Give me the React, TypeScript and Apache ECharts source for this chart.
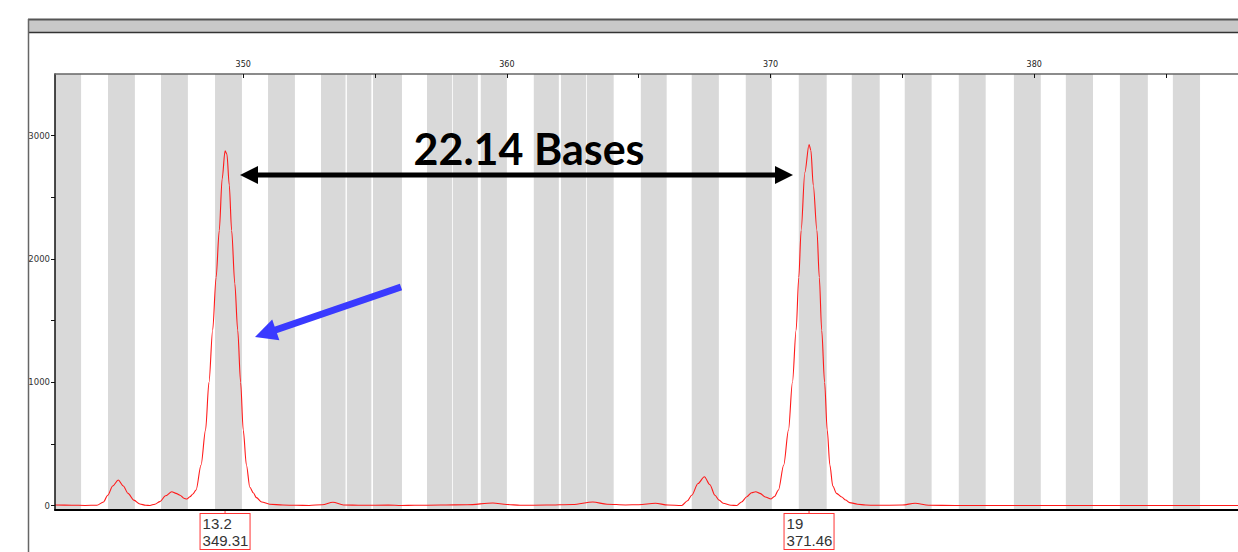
import React, { useEffect, useRef } from "react";
import * as echarts from "echarts";

// Electropherogram trace (size in bases, RFU)
const traceX = [
  342.86, 343.5, 344.0, 344.45, 344.7, 344.86, 345.05, 345.26, 345.45, 345.63, 345.85, 346.08, 346.3, 346.46,
  346.65, 346.84, 347.05, 347.29, 347.45, 347.6, 347.75, 347.86, 347.98, 348.09, 348.21, 348.4, 348.57, 348.7,
  348.84, 348.97, 349.09, 349.2, 349.31, 349.38, 349.47, 349.56, 349.68, 349.79, 349.9, 350.0, 350.12, 350.25,
  350.38, 350.5, 350.7, 351.0, 351.5, 352.0, 352.5, 353.0, 353.4, 353.8, 354.5, 355.5, 356.0, 356.5, 357.5,
  358.5, 359.47, 360.0, 360.5, 361.5, 362.5, 363.26, 363.8, 364.5, 365.0, 365.63, 366.1, 366.63, 366.85, 367.01,
  367.25, 367.49, 367.7, 367.89, 368.05, 368.2, 368.5, 368.72, 368.9, 369.1, 369.28, 369.44, 369.6, 369.8,
  370.02, 370.15, 370.3, 370.5, 370.68, 370.83, 370.97, 371.07, 371.16, 371.3, 371.46, 371.53, 371.62, 371.76,
  371.85, 371.94, 372.05, 372.15, 372.25, 372.36, 372.5, 372.7, 372.85, 373.0, 373.3, 373.6, 374.0, 375.0,
  375.48, 376.0, 377.0, 380.0, 385.0, 387.73,
];
const traceY = [
  5, 4, 2, 4, 30, 85, 160, 208, 160, 100, 45, 14, 3, 2,
  12, 33, 80, 113, 100, 85, 60, 54, 73, 95, 127, 330, 613, 1000,
  1423, 1850, 2231, 2650, 2877, 2850, 2600, 2231, 1800, 1423, 1000, 613, 330, 150,
  105, 65, 30, 12, 5, 3, 2, 8, 28, 6, 3, 5, 2, 3, 5,
  8, 22, 10, 3, 5, 10, 30, 12, 6, 8, 20, 5, 2, 40, 85,
  180, 235, 170, 85, 45, 20, 3, 2, 30, 73, 105, 113, 100, 70,
  54, 75, 127, 330, 613, 1000, 1423, 1850, 2231, 2700, 2929, 2880, 2600, 2231,
  1850, 1423, 1000, 613, 330, 160, 100, 70, 46, 25, 12, 5, 3, 5,
  20, 3, 2, 2, 2, 2,
];

// Allele bins (gray windows)
const binStarts = [
  342.86, 344.87, 346.88, 348.93, 350.94, 352.95, 353.93, 354.92, 356.97, 357.95, 359.01, 361.02, 362.05,
  363.03, 365.08, 367.01, 369.06, 371.07, 373.08, 375.09, 377.14, 379.23, 381.2, 383.25, 385.26,
];
const binEnds = [
  343.85, 345.89, 347.9, 349.95, 351.96, 353.88, 354.86, 356.02, 357.92, 358.9, 360.0, 361.97, 363.0,
  364.05, 366.06, 368.04, 370.05, 372.13, 374.14, 376.11, 378.16, 380.25, 382.23, 384.31, 386.29,
];

// Called peaks
const peakSizes = [349.31, 371.46];
const peakAlleles = ["13.2", "19"];

// Axes
const xMin = 342.86;
const xMax = 387.73;
const yMin = -35;
const yMax = 3500;
const xTickValues = [350, 355, 360, 365, 370, 375, 380, 385];
const xLabelValues = [350, 360, 370, 380];
const yTickValues = [0, 500, 1000, 1500, 2000, 2500, 3000];
const yLabelValues = [0, 1000, 2000, 3000];

const annotationText = "22.14 Bases";

export default function App() {
  const ref = useRef<HTMLDivElement>(null);

  useEffect(() => {
    if (!ref.current) return;
    const chart = echarts.init(ref.current, undefined, { renderer: "svg" });

    const seriesData = traceX.map((x, i) => [x, traceY[i]]);
    const bins = binStarts.map((s, i) => [{ xAxis: s }, { xAxis: binEnds[i] }]);
    const peakMarks = peakSizes.map((s, i) => ({
      coord: [s, yMin],
      label: {
        formatter: `{a|${peakAlleles[i]}}\n{a|${s.toFixed(2)}}`,
      },
    }));

    const option: any = {
      animation: false,
      backgroundColor: "#ffffff",
      grid: { left: 55, right: 0, top: 74, bottom: 42, containLabel: false },
      xAxis: [
        {
          type: "value",
          position: "top",
          min: xMin,
          max: xMax,
          z: 5,
          axisLine: { show: true, onZero: false, lineStyle: { color: "#666", width: 1.5 } },
          axisTick: {
            show: true,
            inside: true,
            length: 4,
            customValues: xTickValues,
            lineStyle: { color: "#111", width: 1 },
          },
          axisLabel: {
            show: true,
            customValues: xLabelValues,
            formatter: (v: number) => String(v),
            fontSize: 8,
            fontFamily: "DejaVu Sans",
            color: "#222",
            margin: 6,
          },
          splitLine: { show: false },
        },
        {
          type: "value",
          position: "bottom",
          min: xMin,
          max: xMax,
          z: 5,
          axisLine: { show: true, onZero: false, lineStyle: { color: "#000", width: 2 } },
          axisTick: { show: false },
          axisLabel: { show: false },
          splitLine: { show: false },
        },
      ],
      yAxis: {
        type: "value",
        min: yMin,
        max: yMax,
        z: 5,
        axisLine: { show: true, onZero: false, lineStyle: { color: "#111", width: 1.5 } },
        axisTick: {
          show: true,
          length: 4,
          customValues: yTickValues,
          lineStyle: { color: "#111", width: 1 },
        },
        axisLabel: {
          show: true,
          customValues: yLabelValues,
          formatter: (v: number) => String(v),
          fontSize: 8.5,
          fontFamily: "DejaVu Sans",
          color: "#333",
          margin: 5,
        },
        splitLine: { show: false },
      },
      series: [
        {
          type: "line",
          xAxisIndex: 0,
          data: seriesData,
          showSymbol: false,
          smooth: 0.3,
          smoothMonotone: "x",
          z: 3,
          lineStyle: { color: "#ff1a1a", width: 1.1 },
          markArea: {
            silent: true,
            itemStyle: { color: "#d9d9d9", borderWidth: 0 },
            data: bins,
          },
          markPoint: {
            silent: true,
            symbol: "rect",
            symbolSize: [1, 4],
            symbolOffset: [0, 2],
            itemStyle: { color: "#ff3333" },
            label: {
              show: true,
              position: "bottom",
              distance: 0,
              backgroundColor: "#ffffff",
              borderColor: "#ff3333",
              borderWidth: 1,
              padding: [1, 2, 0, 2],
              rich: {
                a: {
                  width: 45,
                  align: "left",
                  fontSize: 15,
                  lineHeight: 17,
                  fontFamily: "Liberation Sans",
                  color: "#333",
                },
              },
            },
            data: peakMarks,
          },
        },
      ],
      graphic: [
        {
          type: "rect",
          z: 10,
          shape: { x: 28, y: 19, width: 1210, height: 14 },
          style: { fill: "#c8c8c8" },
        },
        {
          type: "line",
          z: 11,
          shape: { x1: 28, y1: 19.5, x2: 1238, y2: 19.5 },
          style: { stroke: "#555", lineWidth: 2 },
        },
        {
          type: "line",
          z: 11,
          shape: { x1: 28, y1: 32.5, x2: 1238, y2: 32.5 },
          style: { stroke: "#333", lineWidth: 1.5 },
        },
        {
          type: "line",
          z: 11,
          shape: { x1: 28.5, y1: 19, x2: 28.5, y2: 552 },
          style: { stroke: "#666", lineWidth: 1.5 },
        },
        {
          type: "text",
          z: 20,
          x: 529,
          y: 148,
          style: {
            text: annotationText,
            fontFamily: "Lato",
            fontWeight: "bold",
            fontSize: 43,
            fill: "#000",
            align: "center",
            verticalAlign: "middle",
          },
        },
        {
          type: "line",
          z: 20,
          shape: { x1: 256, y1: 175, x2: 777, y2: 175 },
          style: { stroke: "#000", lineWidth: 5 },
        },
        {
          type: "polygon",
          z: 20,
          shape: { points: [[240, 175], [258, 166], [258, 184]] },
          style: { fill: "#000" },
        },
        {
          type: "polygon",
          z: 20,
          shape: { points: [[793, 175], [775, 166], [775, 184]] },
          style: { fill: "#000" },
        },
        {
          type: "line",
          z: 20,
          shape: { x1: 401, y1: 287, x2: 274, y2: 330.5 },
          style: { stroke: "#3a3aff", lineWidth: 7 },
        },
        {
          type: "polygon",
          z: 20,
          shape: { points: [[255, 337], [272.2, 319.5], [279.4, 340.3]] },
          style: { fill: "#3a3aff" },
        },
      ],
    };

    chart.setOption(option);
    return () => chart.dispose();
  }, []);

  return (
    <div
      ref={ref}
      style={{ position: "fixed", left: 0, top: 0, width: 1238, height: 552, background: "#fff" }}
    />
  );
}
